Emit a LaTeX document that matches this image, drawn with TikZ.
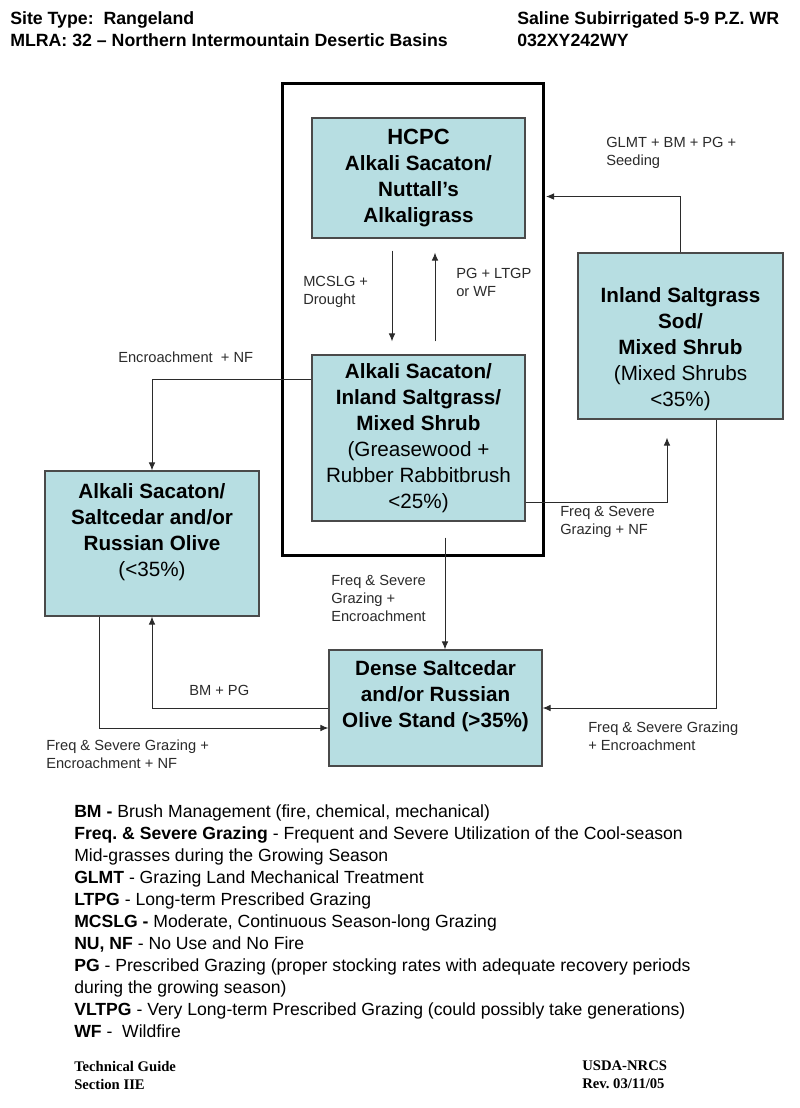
\documentclass[tikz,border=0pt]{standalone}
\usepackage{fontspec}
\setmainfont{Liberation Sans}
\newfontfamily\guidefont{Liberation Serif}
\usetikzlibrary{arrows.meta, positioning}
\definecolor{TEAL}{RGB}{183,222,226}
\definecolor{EDGE}{HTML}{4A4A4A}
\definecolor{LINE}{HTML}{2B2B2B}
\def\px{0.75pt}
% struts that move the text of a box down (top) or up (bottom)
\newcommand{\padtop}[1]{\rule{0pt}{#1}}
\newcommand{\padbot}[1]{\rule[-#1]{0pt}{#1}}
\frenchspacing

\begin{document}
\begin{tikzpicture}[x=0.75pt, y=-0.75pt,
    state/.style={draw=EDGE, fill=TEAL, line width=1.2*\px, align=center, inner sep=0pt, font=\fontsize{15.5}{19.5}\selectfont},
    trans/.style={LINE, line width=1*\px, -{Latex[length=6pt,width=5pt]}},
    lbl/.style={inner sep=0pt, anchor=west, align=left, text=LINE, font=\fontsize{11}{13.5}\selectfont},
    head/.style={inner sep=0pt, anchor=west, align=left, font=\fontsize{13.3}{16.5}\selectfont\bfseries}]
    \useasboundingbox (0,0) rectangle (800,1108);
    \fill[white] (0,0) rectangle (800,1108);
    %
    \node[head] (site) at (10,29) {Site Type:\ \ Rangeland\\MLRA: 32 – Northern Intermountain Desertic Basins};
    \node[head] (saline) at (517,29) {Saline Subirrigated 5-9 P.Z. WR\\032XY242WY};
    %
    \node[draw, line width=3*\px, minimum width=261*\px, minimum height=472*\px, inner sep=0pt] (frame) at (412.5,319) {};
    \node[state, minimum width=213*\px, minimum height=120*\px] (hcpc) at (418.5,178) {\textbf{\fontsize{16.5}{19.5}\selectfont HCPC}\\\textbf{Alkali Sacaton/}\\\textbf{Nuttall’s}\\\textbf{Alkaligrass}};
    \node[state, minimum width=213*\px, minimum height=166*\px] (mid) at (418.5,438) {\textbf{Alkali Sacaton/}\\\textbf{Inland Saltgrass/}\\\textbf{Mixed Shrub}\\(Greasewood +\\Rubber Rabbitbrush\\<25\%)};
    \node[state, minimum width=205*\px, minimum height=166*\px] (isd) at (680.5,336) {\padtop{31pt}\textbf{Inland Saltgrass}\\\textbf{Sod/}\\\textbf{Mixed Shrub}\\(Mixed Shrubs\\<35\%)};
    \node[state, minimum width=214*\px, minimum height=145*\px] (asr) at (152,543.5) {\textbf{Alkali Sacaton/}\\\textbf{Saltcedar and/or}\\\textbf{Russian Olive}\\(<35\%)\padbot{20pt}};
    \node[state, minimum width=213*\px, minimum height=116*\px] (dense) at (435.5,708) {\textbf{Dense Saltcedar}\\\textbf{and/or Russian}\\\textbf{Olive Stand (>35\%)}\padbot{21pt}};
    %
    \draw[trans] ([shift={(-26.5,12)}]hcpc.south) -- ([shift={(-26.5,-13)}]mid.north);
    \draw[trans] ([shift={(16.5,-13)}]mid.north) -- ([shift={(16.5,14)}]hcpc.south);
    \node[lbl] (mcslg) at (303,292) {MCSLG +\\Drought};
    \node[lbl] (pgltgp) at (456,282) {PG + LTGP\\or WF};
    %
    \draw[trans] (isd.north) |- ([shift={(1.5,115)}]frame.north east);
    \node[lbl] (glmt) at (606,153) {GLMT + BM + PG +\\Seeding};
    %
    \draw[trans] ([shift={(0,-59)}]mid.west) -| (asr.north);
    \node[lbl] (encr) at (118,357) {Encroachment\ \ + NF};
    %
    \draw[trans] ([shift={(0,64)}]mid.east) -| ([shift={(-13.5,18)}]isd.south);
    \node[lbl] (fsnf) at (560,522) {Freq \& Severe\\Grazing + NF};
    %
    \draw[trans] ([shift={(35.5,0)}]isd.south) |- (dense.east);
    \node[lbl] (fsenc) at (588,736) {Freq \& Severe Grazing\\+ Encroachment};
    %
    \draw[trans] ([shift={(26.5,16)}]mid.south) -- ([shift={(9.5,0)}]dense.north);
    \node[lbl] (fsge) at (331,598) {Freq \& Severe\\Grazing +\\Encroachment};
    %
    \draw[trans] (dense.west) -| (asr.south);
    \node[lbl] (bmpg) at (189,690) {BM + PG};
    %
    \draw[trans] ([shift={(-53,0)}]asr.south) |- ([shift={(0,20)}]dense.west);
    \node[lbl] (fsgen) at (46,754) {Freq \& Severe Grazing +\\Encroachment + NF};
    %
    \node[inner sep=0pt, anchor=north west, align=left, font=\fontsize{13.2}{16.5}\selectfont] (legend) at (74,804) {%
        \textbf{BM -} Brush Management (fire, chemical, mechanical)\\
        \textbf{Freq. \& Severe Grazing} - Frequent and Severe Utilization of the Cool-season\\
        Mid-grasses during the Growing Season\\
        \textbf{GLMT} - Grazing Land Mechanical Treatment\\
        \textbf{LTPG} - Long-term Prescribed Grazing\\
        \textbf{MCSLG -} Moderate, Continuous Season-long Grazing\\
        \textbf{NU, NF} - No Use and No Fire\\
        \textbf{PG} - Prescribed Grazing (proper stocking rates with adequate recovery periods\\
        during the growing season)\\
        \textbf{VLTPG} - Very Long-term Prescribed Grazing (could possibly take generations)\\
        \textbf{WF} -\ \ Wildfire};
    %
    \node[inner sep=0pt, anchor=north west, align=left, font=\guidefont\bfseries\fontsize{11}{13.5}\selectfont] (guide) at (74,1061) {Technical Guide\\Section IIE};
    \node[inner sep=0pt, anchor=north west, align=left, font=\guidefont\bfseries\fontsize{11}{13.5}\selectfont] (usda) at (582,1061) {USDA-NRCS\\Rev. 03/11/05};
\end{tikzpicture}
\end{document}
